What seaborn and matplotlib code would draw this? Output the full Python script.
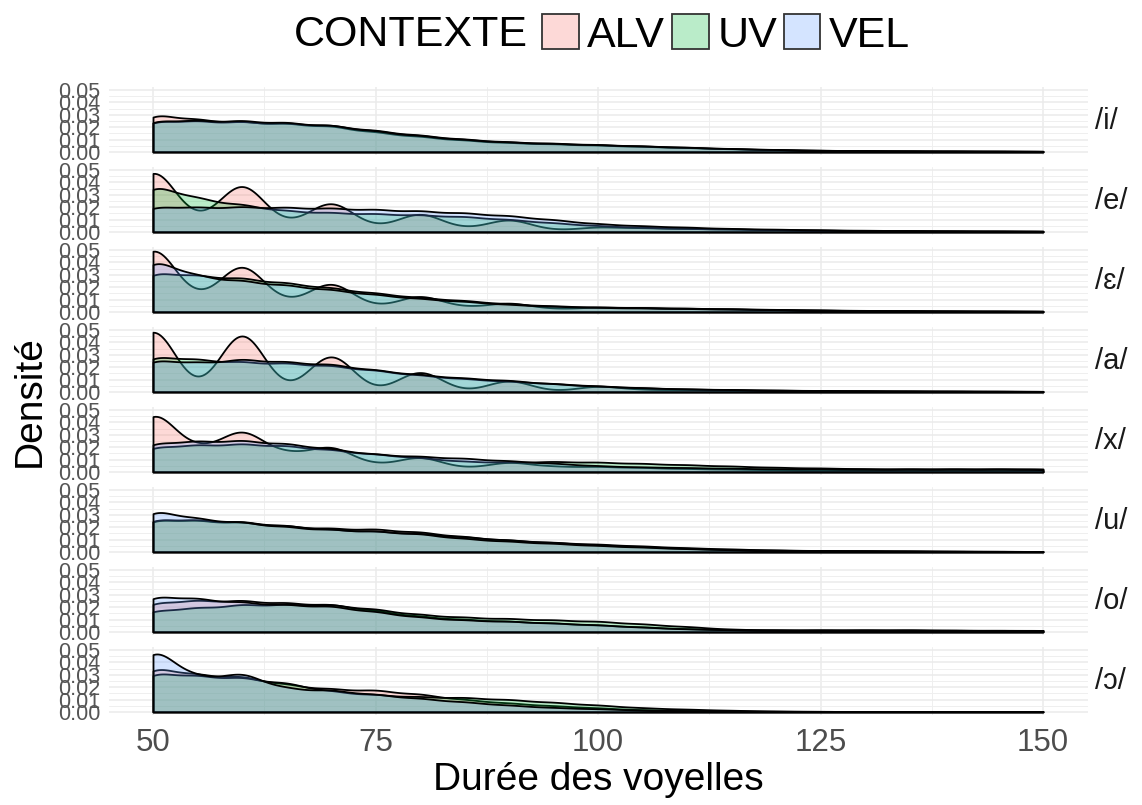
import numpy as np
import matplotlib
matplotlib.use("Agg")
import matplotlib.pyplot as plt
from matplotlib.colors import to_rgba
from matplotlib.patches import Patch
import seaborn as sns

sns.set_style("white")
plt.rcParams["font.family"] = ["Liberation Sans", "DejaVu Sans"]

# durées (ms) et poids estimés pour chaque voyelle / contexte
DUREES = [50, 55, 60, 65, 70, 75, 80, 85, 90, 95, 100,
          105, 110, 115, 120, 125, 130, 135, 140, 145, 150]

VOYELLES = ["/i/", "/e/", "/ɛ/", "/a/", "/x/", "/u/", "/o/", "/ɔ/"]
CONTEXTES = ["ALV", "UV", "VEL"]
COULEURS = ["#F8766D", "#00BA38", "#619CFF"]

I_ALV = [32, 26, 24.5, 23, 21, 16, 12.5, 9.5, 7.5, 6.5, 5.5, 4.5, 3.5, 2.5, 1.8, 1.2, 1, 0.8, 0.7, 0.6, 0.5]
I_UV = [24, 23, 22.5, 21.5, 20, 16, 12.5, 9.5, 7.5, 6.5, 5.5, 4.5, 3.5, 2.5, 1.8, 1.2, 1, 0.8, 0.7, 0.6, 0.5]
I_VEL = [25, 24, 24, 22.5, 20.5, 16, 12.5, 9.5, 7.5, 6.5, 5.5, 4.5, 3.5, 2.5, 1.8, 1.2, 1, 0.8, 0.7, 0.6, 0.5]

E_ALV = [61, 8.9, 46.2, 6.1, 28.6, 3.7, 17.8, 2.7, 12, 1.5, 4.5, 3.5, 3, 2.5, 2, 1.5, 1.2, 1, 0.8, 0.7, 0.6]
E_UV = [43, 29.5, 24, 18.5, 17, 16, 15, 13.5, 11, 8, 5.5, 4, 3, 2.5, 2, 1.5, 1.2, 1, 0.8, 0.7, 0.6]
E_VEL = [19.3, 18, 18.5, 18, 17.5, 16.5, 15.5, 14, 12, 9, 6, 4.5, 3.5, 2.5, 2, 1.5, 1.2, 1, 0.8, 0.7, 0.6]

EE_ALV = [60, 9.9, 42.8, 6.9, 26.4, 3.8, 14.5, 3.8, 8, 2.5, 4, 3.5, 3, 2.5, 2, 1.5, 1.2, 1, 0.8, 0.7, 0.6]
EE_UV = [34, 30, 28, 24, 20, 15.6, 12, 9.4, 6.7, 5, 4, 3.5, 3, 2.5, 2, 1.5, 1.2, 1, 0.8, 0.7, 0.6]
EE_VEL = [49, 32, 28, 24, 20, 15.6, 12, 9.4, 6.7, 5, 4, 3.5, 3, 2.5, 2, 1.5, 1.2, 1, 0.8, 0.7, 0.6]

A_ALV = [62.5, 0.3, 58.5, 0.3, 36.6, 0.2, 20.2, 0.2, 11.2, 0.5, 5.5, 2, 2, 1.5, 1.2, 1, 0.8, 0.7, 0.6, 0.5, 0.4]
A_UV = [31, 27, 25, 24, 22, 18, 14, 11, 9, 7, 5, 3.5, 2.5, 2, 1.5, 1.2, 1, 0.8, 0.7, 0.6, 0.5]
A_VEL = [29, 25, 28.5, 26, 24, 19, 15, 12, 10, 7, 5, 3.5, 2.5, 2, 1.5, 1.2, 1, 0.8, 0.7, 0.6, 0.5]

X_ALV = [60, 20.2, 40.2, 16.3, 24.7, 6.2, 14.9, 3.4, 9.6, 5, 5, 4, 3, 2.5, 2, 1.5, 1.2, 1, 1, 1, 1]
X_UV = [19.8, 20.5, 21.5, 20, 17, 13.5, 11, 8, 7.5, 8, 7.5, 6.5, 5.5, 4.5, 3.5, 3, 2.5, 2.5, 2.5, 2.5, 2.5]
X_VEL = [24.2, 24.7, 25.5, 22.8, 18.8, 14.2, 12.6, 11, 9, 7, 5, 4, 3.5, 3, 2.5, 2.5, 2, 2, 2, 2, 2]

U_ALV = [28.6, 26.6, 25.3, 22, 20, 19.5, 17, 13, 10, 8, 6, 4.5, 3, 2, 1.5, 1.2, 1, 0.8, 0.6, 0.5, 0.4]
U_UV = [28.6, 26.6, 25.3, 22, 18.8, 17.5, 15.5, 12.5, 10, 8, 6.5, 5, 3.5, 2.5, 1.5, 1.2, 1, 0.8, 0.6, 0.5, 0.4]
U_VEL = [41, 31, 28, 23.5, 21, 19.5, 17, 12.5, 10, 8, 6, 4.5, 3, 2, 1.5, 1.2, 1, 0.8, 0.6, 0.5, 0.4]

O_ALV = [24.2, 25, 25, 23, 22, 17, 12.4, 10, 8.5, 7, 5.5, 4, 2.5, 1.8, 1.5, 1.5, 1.5, 1.5, 1.3, 1.2, 1.2]
O_UV = [16.5, 18, 20.5, 20.5, 20.5, 17, 13, 11, 10, 9, 8, 6, 4, 2, 1.5, 1.5, 1.5, 1.5, 1.3, 1.2, 1.2]
O_VEL = [31.4, 28, 25, 22.8, 21.8, 17, 12.4, 10, 9, 7.5, 6, 4, 2.5, 1.8, 1.5, 1.5, 1.5, 1.5, 1.3, 1.2, 1.2]

OO_ALV = [34, 27, 26, 20, 16.7, 16, 13, 9, 6.5, 4.5, 3, 1.5, 1, 0.7, 0.5, 0.4, 0.3, 0.3, 0.3, 0.3, 0.3]
OO_UV = [29.7, 26, 25, 21, 15, 12.5, 11, 10.5, 9, 7, 5, 3, 2, 1.2, 0.5, 0.4, 0.3, 0.3, 0.3, 0.3, 0.3]
OO_VEL = [53.9, 26.9, 31.5, 18.5, 17.5, 14, 10.8, 8, 5.4, 3.5, 2.5, 1.5, 1, 0.7, 0.5, 0.4, 0.3, 0.3, 0.3, 0.3, 0.3]

POIDS = [
    [I_ALV, I_UV, I_VEL],
    [E_ALV, E_UV, E_VEL],
    [EE_ALV, EE_UV, EE_VEL],
    [A_ALV, A_UV, A_VEL],
    [X_ALV, X_UV, X_VEL],
    [U_ALV, U_UV, U_VEL],
    [O_ALV, O_UV, O_VEL],
    [OO_ALV, OO_UV, OO_VEL],
]

SIGMA = 2.5  # largeur de noyau (ms)
ALPHA = 0.27


def largeur(kde):
    # facteur de bande pour obtenir un écart-type de noyau fixe
    ecart = np.sqrt(np.cov(kde.dataset[0], aweights=kde.weights))
    return SIGMA / ecart


fig, axes = plt.subplots(8, 1, figsize=(11.42, 8.05), dpi=100, sharex=True)
fig.subplots_adjust(left=108.5 / 1142, right=1087.5 / 1142,
                    top=1 - 87 / 805, bottom=1 - 715 / 805, hspace=12 / 68)

for ax, voy, poids in zip(axes, VOYELLES, POIDS):
    for ctx, coul, w in zip(CONTEXTES, COULEURS, poids):
        sns.kdeplot(x=DUREES, weights=w, bw_method=largeur, cut=0, clip=(50, 150),
                    gridsize=500, fill=True, color=coul, alpha=ALPHA,
                    edgecolor="black", linewidth=1.3, ax=ax)
    ax.set_xlim(45, 155)
    ax.set_ylim(-0.0025, 0.0525)
    ax.set_yticks([0, 0.01, 0.02, 0.03, 0.04, 0.05])
    ax.set_yticklabels(["0.00", "0.01", "0.02", "0.03", "0.04", "0.05"])
    ax.set_yticks([0.005, 0.015, 0.025, 0.035, 0.045], minor=True)
    ax.set_xticks([50, 75, 100, 125, 150])
    ax.set_xticks([62.5, 87.5, 112.5, 137.5], minor=True)
    ax.grid(which="major", color="#EBEBEB", linewidth=1.1)
    ax.grid(which="minor", color="#EFEFEF", linewidth=0.7)
    ax.set_axisbelow(True)
    for s in ax.spines.values():
        s.set_visible(False)
    ax.tick_params(axis="y", which="both", length=0, labelsize=15.5,
                   labelcolor="#555555", pad=6)
    ax.tick_params(axis="x", which="both", length=0, labelsize=22.5,
                   labelcolor="#4D4D4D", pad=9)
    ax.set_ylabel("")
    ax.set_xlabel("")
    ax.text(1.008, 0.5, voy, transform=ax.transAxes, ha="left", va="center",
            fontsize=21, color="#1A1A1A")

axes[-1].set_xlabel("Durée des voyelles", fontsize=28, labelpad=3, color="black")
fig.text(30 / 1142, 1 - 401 / 805, "Densité", rotation=90, fontsize=28,
         ha="center", va="center", color="black")

fig.text(528 / 1142, 1 - 35 / 805, "CONTEXTE", fontsize=31, ha="right",
         va="center", color="black")
poignees = [Patch(facecolor=to_rgba(c, ALPHA), edgecolor="#333333", linewidth=1.3)
            for c in COULEURS]
leg = fig.legend(poignees, CONTEXTES, loc="center left",
                 bbox_to_anchor=(542 / 1142, 1 - 35 / 805),
                 ncol=3, frameon=False, fontsize=31, handlelength=0.85, handleheight=0.85,
                 handletextpad=0.2, columnspacing=0.16, borderpad=0, borderaxespad=0)
for t in leg.get_texts():
    t.set_color("black")

fig.savefig("out.png", dpi=100)
